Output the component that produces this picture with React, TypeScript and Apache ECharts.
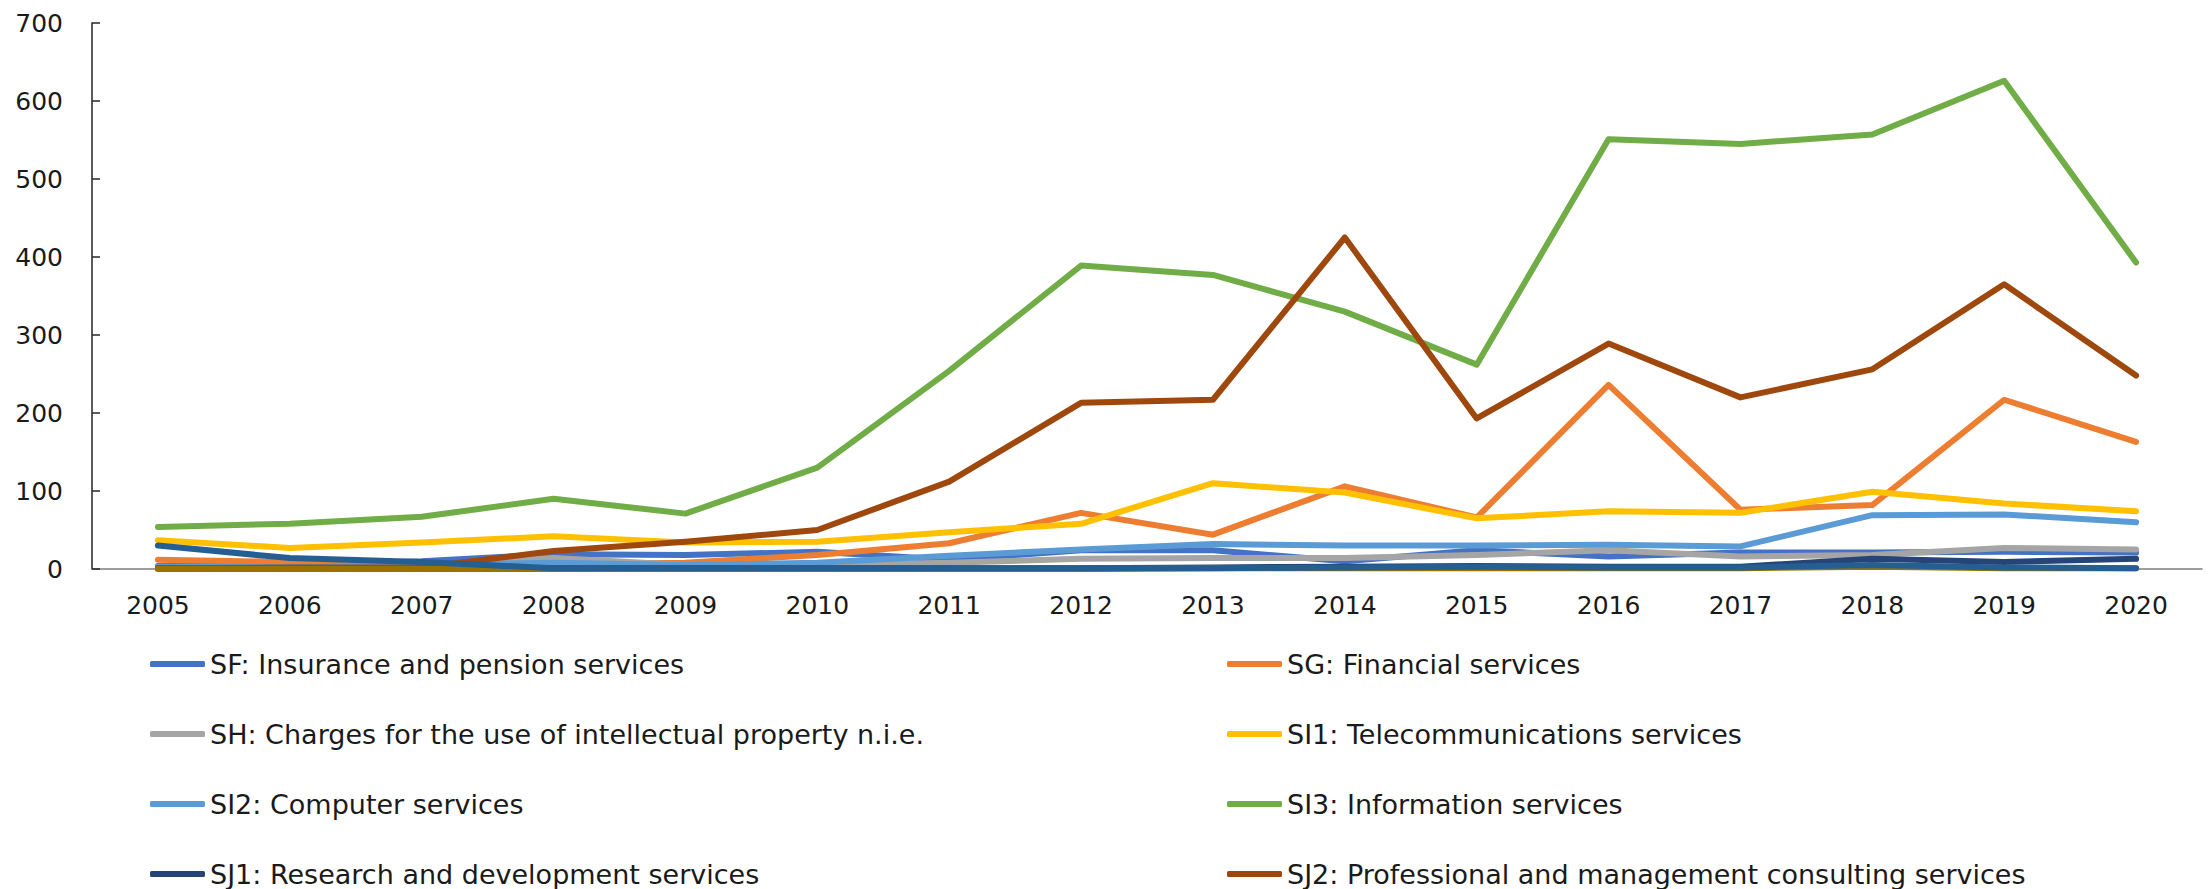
import React, { useEffect, useRef } from "react";
import * as echarts from "echarts";

const years = ["2005","2006","2007","2008","2009","2010","2011","2012","2013","2014","2015","2016","2017","2018","2019","2020"];

const sfInsurance = [4, 5, 10, 19, 18, 22, 12, 24, 24, 10, 24, 16, 21, 21, 22, 21];
const sgFinancial = [12, 9, 5, 6, 8, 18, 33, 72, 44, 106, 66, 236, 76, 82, 217, 163];
const shIntellectual = [2, 3, 4, 14, 5, 5, 8, 13, 14, 14, 18, 24, 16, 18, 27, 25];
const si1Telecom = [37, 27, 34, 42, 34, 35, 47, 58, 110, 98, 65, 74, 72, 99, 84, 74];
const si2Computer = [3, 3, 5, 8, 5, 8, 17, 25, 32, 30, 30, 31, 29, 69, 70, 60];
const si3Information = [54, 58, 67, 90, 71, 130, 254, 389, 377, 330, 262, 551, 545, 557, 626, 393];
const sj1Research = [1, 1, 1, 1, 1, 1, 1, 1, 2, 3, 4, 3, 3, 13, 9, 13];
const sj2Consulting = [1, 2, 2, 23, 35, 50, 112, 213, 217, 425, 193, 289, 220, 256, 365, 248];
const sk1Audiovisual = [0, 0, 0, 0, 0, 0, 0, 0, 1, 1, 1, 1, 1, 3, 1, 1];
const sk2Other = [30, 14, 9, 1, 1, 1, 1, 1, 1, 2, 3, 2, 2, 5, 2, 1];

const yTicks = { min: 0, max: 700, interval: 100 };

const seriesDefs = [
  { name: "SF: Insurance and pension services", data: sfInsurance, color: "#4472C4" },
  { name: "SG: Financial services", data: sgFinancial, color: "#ED7D31" },
  { name: "SH: Charges for the use of intellectual property n.i.e.", data: shIntellectual, color: "#A5A5A5" },
  { name: "SI1: Telecommunications services", data: si1Telecom, color: "#FFC000" },
  { name: "SI2: Computer services", data: si2Computer, color: "#5B9BD5" },
  { name: "SI3: Information services", data: si3Information, color: "#70AD47" },
  { name: "SJ1: Research and development services", data: sj1Research, color: "#264478" },
  { name: "SJ2: Professional and management consulting services", data: sj2Consulting, color: "#9E480E" },
  { name: "SK1: Audiovisual and related services", data: sk1Audiovisual, color: "#997300" },
  { name: "SK2: Other personal, cultural, and recreational services", data: sk2Other, color: "#255E91" },
];

const leftLegend = [seriesDefs[0].name, seriesDefs[2].name, seriesDefs[4].name, seriesDefs[6].name];
const rightLegend = [seriesDefs[1].name, seriesDefs[3].name, seriesDefs[5].name, seriesDefs[7].name];

const FONT = "DejaVu Sans";

export default function App() {
  const ref = useRef<HTMLDivElement>(null);
  useEffect(() => {
    if (!ref.current) return;
    const chart = echarts.init(ref.current, null, { renderer: "svg" });
    const legendBase = {
      orient: "vertical" as const,
      top: 650,
      height: 239,
      padding: 0,
      itemWidth: 55,
      itemHeight: 6,
      itemGap: 42,
      icon: "roundRect",
      selectedMode: false,
      textStyle: { fontFamily: FONT, fontSize: 27, color: "#1a1a1a", lineHeight: 28 },
    };
    chart.setOption({
      animation: false,
      backgroundColor: "#ffffff",
      grid: { left: 92, right: 6, top: 23, bottom: 320, containLabel: false },
      xAxis: {
        type: "category",
        data: years,
        boundaryGap: true,
        axisLine: { show: true, lineStyle: { color: "#7f7f7f", width: 1.5 } },
        axisTick: { show: false },
        axisLabel: { fontFamily: FONT, fontSize: 25, color: "#1a1a1a", margin: 24 },
        splitLine: { show: false },
      },
      yAxis: {
        type: "value",
        min: yTicks.min,
        max: yTicks.max,
        interval: yTicks.interval,
        axisLine: { show: true, lineStyle: { color: "#262626", width: 1.5 } },
        axisTick: { show: true, inside: true, length: 8, lineStyle: { color: "#262626", width: 1.5 } },
        axisLabel: { fontFamily: FONT, fontSize: 25, color: "#1a1a1a", margin: 29 },
        splitLine: { show: false },
      },
      legend: [
        { ...legendBase, left: 150, data: leftLegend },
        { ...legendBase, left: 1227, data: rightLegend },
      ],
      series: seriesDefs.map((s) => ({
        type: "line",
        name: s.name,
        data: s.data,
        showSymbol: false,
        symbol: "none",
        color: s.color,
        lineStyle: { color: s.color, width: 6, cap: "round", join: "round" },
        itemStyle: { color: s.color },
      })),
    });
    return () => chart.dispose();
  }, []);
  return (
    <div
      ref={ref}
      style={{ position: "absolute", left: 0, top: 0, width: 2208, height: 889, background: "#fff" }}
    />
  );
}
